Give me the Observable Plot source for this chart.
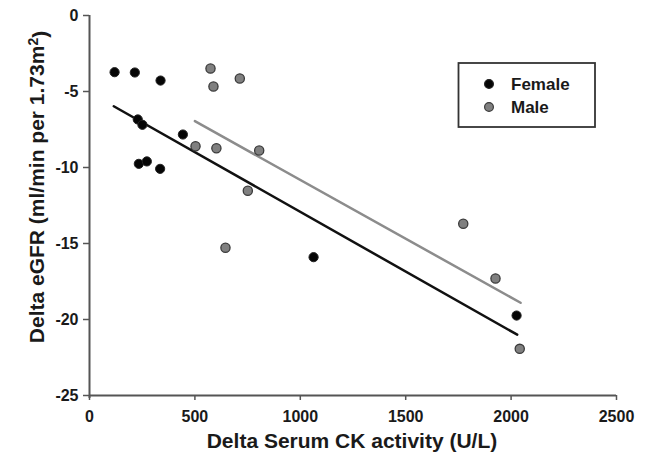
<!DOCTYPE html>
<html>
<head>
<meta charset="utf-8">
<script src="https://cdn.jsdelivr.net/npm/d3@7"></script>
<script src="https://cdn.jsdelivr.net/npm/@observablehq/plot@0.6"></script>
<style>
  html, body { margin: 0; padding: 0; background: #fff; }
  #chart svg { display: block; }
</style>
</head>
<body>
<div id="chart"></div>
<script>
// Female (black) points
const femaleCK   = [119, 215, 337, 229, 251, 443, 234, 272, 335, 1063, 2026];
const femaleEGFR = [-3.73, -3.75, -4.28, -6.84, -7.19, -7.83, -9.76, -9.6, -10.09, -15.9, -19.74];
// Male (gray) points
const maleCK     = [574, 588, 713, 503, 602, 805, 751, 645, 1773, 1926, 2041];
const maleEGFR   = [-3.49, -4.67, -4.14, -8.6, -8.73, -8.88, -11.53, -15.28, -13.7, -17.3, -21.93];
// Fitted lines (end points)
const femaleFitCK   = [115, 2029];
const femaleFitEGFR = [-5.97, -21.0];
const maleFitCK     = [500, 2045];
const maleFitEGFR   = [-6.95, -18.9];
// Ticks
const xTicks = [0, 500, 1000, 1500, 2000, 2500];
const yTicks = [0, -5, -10, -15, -20, -25];
const xLabel = "Delta Serum CK activity (U/L)";
const yLabelMain = "Delta eGFR (ml/min per 1.73m";
const yLabelSup = "2";
const yLabelEnd = ")";
const seriesNames = ["Female", "Male"];

const female = femaleCK.map((x, i) => ({x, y: femaleEGFR[i]}));
const male = maleCK.map((x, i) => ({x, y: maleEGFR[i]}));
const femaleFit = femaleFitCK.map((x, i) => ({x, y: femaleFitEGFR[i]}));
const maleFit = maleFitCK.map((x, i) => ({x, y: maleFitEGFR[i]}));

const FONT = "'Liberation Sans', Arial, Helvetica, sans-serif";

const plot = Plot.plot({
  width: 648,
  height: 461,
  marginTop: 15,
  marginBottom: 66,
  marginLeft: 89,
  marginRight: 32,
  style: {fontFamily: FONT, color: "#1a1a1a", background: "#fff", overflow: "visible"},
  x: {domain: [0, 2500]},
  y: {domain: [-25, 0]},
  marks: [
    Plot.axisX({ticks: xTicks, tickSize: 5, tickPadding: 10, fontSize: 16, fontWeight: "bold",
                tickFormat: d => String(d), label: null, stroke: "#555", strokeWidth: 1.5}),
    Plot.axisY({ticks: yTicks, tickSize: 6, tickPadding: 5, fontSize: 16, fontWeight: "bold",
                tickFormat: d => String(d), label: null, stroke: "#555", strokeWidth: 1.5}),
    Plot.ruleX([0], {y1: -25.2, y2: 0, stroke: "#555", strokeWidth: 2}),
    Plot.ruleY([-25], {x1: 0, x2: 2500, stroke: "#555", strokeWidth: 2}),
    Plot.line(femaleFit, {x: "x", y: "y", stroke: "#111", strokeWidth: 2.5}),
    Plot.line(maleFit, {x: "x", y: "y", stroke: "#8c8c8c", strokeWidth: 2.5}),
    Plot.dot(female, {x: "x", y: "y", r: 4.6, fill: "#050505", stroke: "#222", strokeWidth: 1}),
    Plot.dot(male, {x: "x", y: "y", r: 4.6, fill: "#808080", stroke: "#3a3a3a", strokeWidth: 1.3})
  ]
});

const svg = d3.select(plot);

// Axis titles
svg.append("text")
  .attr("x", 352).attr("y", 448)
  .attr("text-anchor", "middle")
  .style("font-family", FONT).style("font-weight", "bold").style("font-size", "21px")
  .attr("fill", "#1a1a1a")
  .text(xLabel);

const yt = svg.append("text")
  .attr("transform", "translate(44,187) rotate(-90)")
  .attr("text-anchor", "middle")
  .style("font-family", FONT).style("font-weight", "bold").style("font-size", "21px")
  .attr("fill", "#1a1a1a");
yt.append("tspan").text(yLabelMain);
yt.append("tspan").attr("dy", "-0.45em").style("font-size", "14px").text(yLabelSup);
yt.append("tspan").attr("dy", "0.45em").text(yLabelEnd);

// Legend
const lg = svg.append("g");
lg.append("rect").attr("x", 458.5).attr("y", 63).attr("width", 136.5).attr("height", 64)
  .attr("fill", "#fff").attr("stroke", "#333").attr("stroke-width", 1.8);
const legendFill = ["#050505", "#808080"];
const legendStroke = ["#222", "#3a3a3a"];
seriesNames.forEach((name, i) => {
  lg.append("circle").attr("cx", 489).attr("cy", 84 + i * 23).attr("r", 4.4)
    .attr("fill", legendFill[i]).attr("stroke", legendStroke[i]).attr("stroke-width", 1.2);
  lg.append("text").attr("x", 511).attr("y", 90 + i * 23)
    .attr("text-anchor", "start")
    .style("font-family", FONT).style("font-weight", "bold").style("font-size", "17px")
    .attr("fill", "#1a1a1a").text(name);
});

document.getElementById("chart").appendChild(plot);
</script>
</body>
</html>
